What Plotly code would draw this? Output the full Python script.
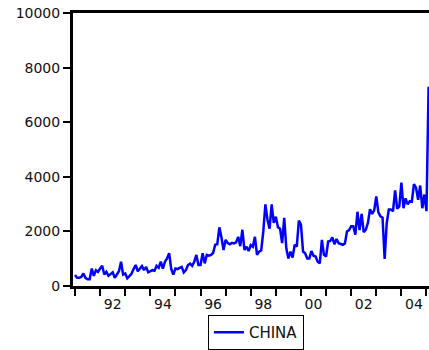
import numpy as np
import plotly.graph_objects as go

series_name = "CHINA"
start_year = 1991
china = [
    400, 300, 300, 330, 460, 300, 250, 250, 640, 370, 580, 520, 640, 740, 420, 520,
    370, 450, 500, 300, 420, 540, 890, 420, 460, 280, 360, 450, 620, 770, 540, 640,
    730, 580, 700, 500, 540, 580, 560, 740, 670, 890, 640, 890, 1010, 1200, 620, 420,
    640, 620, 660, 700, 500, 580, 770, 820, 740, 890, 1140, 770,
    770, 1200, 830, 1140, 1110, 1140, 1210, 1510, 1530, 2150, 1780, 1320, 1690, 1570,
    1530, 1580, 1560, 1600, 1800, 1460, 2060, 1320, 1440, 1280, 1500, 1440, 1800, 1140,
    1260, 1300, 2000, 2990, 2430, 2100, 2990, 2310, 2540, 2150, 2100, 1570, 2500, 1380,
    1010, 1260, 1040, 1510, 1440, 2400, 2250, 1260, 1200, 1010, 1010, 1280, 1110, 1080,
    890, 830, 1690, 1140, 1080, 1630, 1650, 1780, 1530, 1720, 1570, 1540, 1510, 1560,
    2000, 2050, 2190, 2190, 1880, 2720, 2050, 2640, 1970, 2060, 2310, 2810, 2640, 2770,
    3280, 2700, 2550, 2500, 990, 2310, 2800, 2800, 2740, 3500, 2830, 2910, 3790, 2850,
    3210, 2990, 3110, 3090, 3730, 3600, 3160, 3680, 2850, 3350, 2740, 7300,
]
year_ticks = list(range(1991, 2006))
label_years = [1992, 1994, 1996, 1998, 2000, 2002, 2004]
label_text = ["92", "94", "96", "98", "00", "02", "04"]
y_ticks = [0, 2000, 4000, 6000, 8000, 10000]
y_text = ["0", "2000", "4000", "6000", "8000", "10000"]

t = start_year + np.arange(len(china)) / 12.0

fig = go.Figure()
fig.add_trace(go.Scatter(x=t, y=china, mode="lines", name=series_name,
                         line=dict(color="#0000ff", width=2.5)))

font = dict(family="DejaVu Sans", size=14, color="#111111")
fig.update_layout(
    width=429, height=350,
    margin=dict(l=73, r=0, t=13, b=61, pad=0),
    paper_bgcolor="white", plot_bgcolor="white",
    font=font,
    showlegend=True,
    legend=dict(x=0.379, y=-0.108, xanchor="left", yanchor="top",
                bordercolor="black", borderwidth=1, bgcolor="white",
                itemwidth=30,
                font=dict(family="DejaVu Sans", size=15, color="#111111")),
    xaxis=dict(
        range=[1990.92, 2005.10],
        showgrid=False, zeroline=False,
        showline=True, linecolor="black", linewidth=3, mirror=True,
        tickmode="array",
        tickvals=[y + 0.5 for y in label_years], ticktext=label_text,
        ticks="outside", ticklen=3, tickcolor="rgba(0,0,0,0)",
        minor=dict(tickmode="array", tickvals=year_ticks, ticks="outside",
                   ticklen=7, tickwidth=2, tickcolor="black"),
        tickfont=font,
    ),
    yaxis=dict(
        range=[0, 10000],
        showgrid=False, zeroline=False,
        showline=True, linecolor="black", linewidth=3, mirror=False,
        tickmode="array", tickvals=y_ticks, ticktext=y_text,
        ticks="outside", ticklen=7, tickwidth=2, tickcolor="black",
        tickfont=font,
    ),
)

fig.write_html("out.html")
